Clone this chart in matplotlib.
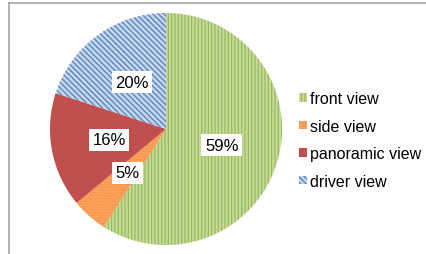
import matplotlib.pyplot as plt
from matplotlib.patches import Patch

plt.rcParams["font.family"] = ["Liberation Sans", "DejaVu Sans"]
plt.rcParams["hatch.linewidth"] = 0.9

labels = ["front view", "side view", "panoramic view", "driver view"]
shares = [59, 5, 16, 20]
face_colors = ["#c6da9e", "#f79646", "#c0504d", "#c5d5ea"]
hatch_colors = ["#9bbb59", "#fbb07a", "#c0504d", "#4f81bd"]
hatches = ["|||||", "......", None, "\\\\\\\\\\\\"]

fig = plt.figure(figsize=(4.27, 2.55), dpi=100)

# light grey frame, only top and left edges are visible in the crop
frame = fig.add_axes([9 / 427, -0.1, 417 / 427, 1.1 - 4 / 255])
frame.set_xticks([])
frame.set_yticks([])
for side in ["right", "bottom"]:
    frame.spines[side].set_visible(False)
for side in ["top", "left"]:
    frame.spines[side].set_color("#a6a6a6")
    frame.spines[side].set_linewidth(1.2)

ax = fig.add_axes([50 / 427, 9 / 255, 232 / 427, 232 / 255])
wedges, texts = ax.pie(
    shares,
    startangle=90,
    counterclock=False,
    radius=1.0,
    labels=[f"{v}%" for v in shares],
    labeldistance=0.5,
    textprops={"fontsize": 12, "ha": "center", "va": "center"},
)
for w, fc, hc, h in zip(wedges, face_colors, hatch_colors, hatches):
    w.set_facecolor(fc)
    w.set_edgecolor(hc)
    w.set_linewidth(0)
    if h:
        w.set_hatch(h)
for t in texts:
    t.set_bbox(dict(facecolor="white", edgecolor="none", pad=2.5))
ax.set_xlim(-1, 1)
ax.set_ylim(-1, 1)
ax.set_aspect("equal")

handles = [
    Patch(facecolor=fc, edgecolor=hc, hatch=h, linewidth=0)
    for fc, hc, h in zip(face_colors, hatch_colors, hatches)
]
fig.legend(
    handles,
    labels,
    loc="upper left",
    bbox_to_anchor=(285 / 427, 1 - 78 / 255),
    frameon=False,
    fontsize=11.5,
    handlelength=0.45,
    handleheight=0.45,
    handletextpad=0.2,
    labelspacing=0.78,
)

fig.savefig("out.png", dpi=100)
